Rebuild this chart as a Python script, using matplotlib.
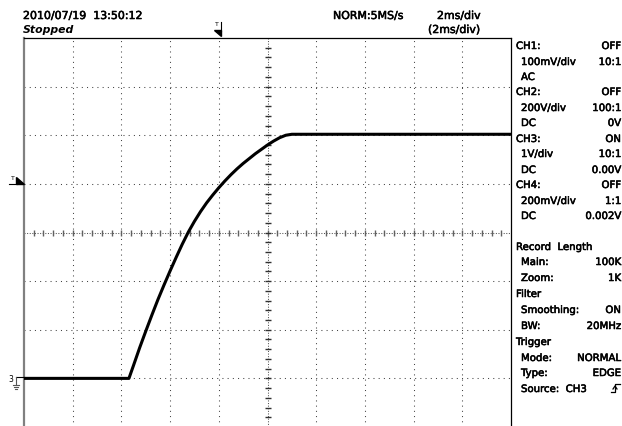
import matplotlib
matplotlib.use("Agg")
import matplotlib.pyplot as plt
import matplotlib.patheffects as pe
from matplotlib.patches import Polygon

# CH3 trace: time in ms from the left edge, volts above ground
trace_t = [0.0, 4.31, 4.5, 4.75, 5.0, 5.25, 5.5, 5.75, 6.0, 6.25, 6.5, 6.75, 7.0,
           7.25, 7.5, 7.75, 8.0, 8.25, 8.5, 8.75, 9.0, 9.25, 9.5, 9.75, 10.0,
           10.25, 10.5, 10.75, 11.0, 20.0]
trace_v = [0.0, 0.0, 0.27, 0.63, 0.97, 1.30, 1.62, 1.92, 2.21, 2.49, 2.76, 3.01, 3.23,
           3.43, 3.61, 3.77, 3.92, 4.06, 4.19, 4.31, 4.42, 4.52, 4.62, 4.71, 4.80,
           4.88, 4.95, 5.00, 5.02, 5.02]

# screen settings
ms_per_div = 2
v_per_div = 1
n_xdiv = 10
n_ydiv = 8
ground_div = -3  # ground marker sits 3 divisions below centre

# side panel: label, value, indented?
panel_rows = [
    ("CH1:", "OFF", False), ("100mV/div", "10:1", True), ("AC", "", True),
    ("CH2:", "OFF", False), ("200V/div", "100:1", True), ("DC", "0V", True),
    ("CH3:", "ON", False), ("1V/div", "10:1", True), ("DC", "0.00V", True),
    ("CH4:", "OFF", False), ("200mV/div", "1:1", True), ("DC", "0.002V", True),
    ("Record  Length", "", False), ("Main:", "100K", True), ("Zoom:", "1K", True),
    ("Filter", "", False), ("Smoothing:", "ON", True), ("BW:", "20MHz", True),
    ("Trigger", "", False), ("Mode:", "NORMAL", True), ("Type:", "EDGE", True),
    ("Source:  CH3", "", True),
]
panel_y = [46, 62, 77, 92, 108, 123, 139, 154, 170, 185, 201, 216,
           247, 262, 278, 294, 310, 326, 342, 358, 373, 389]

W, H = 622, 426
fig = plt.figure(figsize=(W / 100, H / 100), dpi=100)
fig.patch.set_facecolor("white")
bold_fx = [pe.withStroke(linewidth=0.4, foreground="black")]

# screen area in pixels
left, right, top, bottom = 24, 511, 38, 427
ax = fig.add_axes([left / W, 1 - bottom / H, (right - left) / W, (bottom - top) / H])
t_max = n_xdiv * ms_per_div
v_min = (-n_ydiv / 2 - ground_div) * v_per_div
v_max = (n_ydiv / 2 - ground_div) * v_per_div
v_mid = (v_min + v_max) / 2
t_mid = t_max / 2
ax.set_xlim(0, t_max)
ax.set_ylim(v_min, v_max)
ax.set_xticks([])
ax.set_yticks([])
for s in ["top", "right"]:
    ax.spines[s].set_color("black")
    ax.spines[s].set_linewidth(0.9)
ax.spines["left"].set_color("#808080")
ax.spines["left"].set_linewidth(1.6)
ax.spines["bottom"].set_visible(False)

dots = (0, (1, 4))
for i in range(1, n_xdiv):
    t = i * ms_per_div
    if t != t_mid:
        ax.axvline(t, color="#444444", lw=0.75, ls=dots, zorder=1)
for i in range(1, n_ydiv):
    v = v_min + i * v_per_div
    if v != v_mid:
        ax.axhline(v, color="#444444", lw=0.75, ls=dots, zorder=1)

# centre cross with 1/5 division ticks
ax.axhline(v_mid, color="#555555", lw=0.75, ls=(0, (1, 1.5)), zorder=1)
ax.axvline(t_mid, color="#555555", lw=0.75, ls=(0, (1, 1.5)), zorder=1)
xt = [k * ms_per_div / 5 for k in range(1, n_xdiv * 5)]
yt = [v_min + k * v_per_div / 5 for k in range(1, n_ydiv * 5)]
ax.plot(xt, [v_mid] * len(xt), ls="none", marker="|", ms=5, mew=1.0, color="#606060", zorder=2)
ax.plot([t_mid] * len(yt), yt, ls="none", marker="_", ms=5, mew=1.0, color="#303030", zorder=2)

ax.plot(trace_t, trace_v, color="black", lw=2.2, solid_joinstyle="round", zorder=5)

# overlay in pixel coordinates for the annotations
ov = fig.add_axes([0, 0, 1, 1], zorder=10)
ov.set_xlim(0, W)
ov.set_ylim(H, 0)
ov.axis("off")
ov.patch.set_alpha(0)

ov.text(23, 16, "2010/07/19  13:50:12", fontsize=7.9, va="center", ha="left", path_effects=bold_fx)
ov.text(23, 30, "Stopped", fontsize=7.8, style="italic", weight="bold", va="center", ha="left")
ov.text(333, 16, "NORM:5MS/s", fontsize=7.9, va="center", ha="left", path_effects=bold_fx)
ov.text(437, 16, "2ms/div", fontsize=7.9, va="center", ha="left", path_effects=bold_fx)
ov.text(428, 30, "(2ms/div)", fontsize=7.9, va="center", ha="left", path_effects=bold_fx)

# trigger position marker (top)
ov.text(217, 25, "T", fontsize=4.5, ha="center", va="center")
ov.add_patch(Polygon([(214, 30), (221, 30), (221, 36)], closed=True, color="black"))
ov.plot([221, 221], [22, 31], color="black", lw=0.8)

# trigger level marker (left)
ov.text(13, 179, "T", fontsize=4.5, ha="center", va="center")
ov.plot([9, 17], [183.5, 183.5], color="black", lw=0.8)
ov.add_patch(Polygon([(16, 177), (16, 184), (24, 184)], closed=True, color="black"))

# CH3 ground marker
ov.text(11, 380, "3", fontsize=5.5, ha="center", va="center")
ov.plot([16, 23], [377, 377], color="black", lw=0.8)
ov.plot([16, 16], [377, 385], color="#555555", lw=0.8)
ov.plot([13, 19], [385, 385], color="#555555", lw=0.8)
ov.plot([14, 18], [387, 387], color="#555555", lw=0.8)
ov.plot([15, 17], [389, 389], color="#555555", lw=0.8)

# side panel
for (label, value, indent), y in zip(panel_rows, panel_y):
    ov.text(521 if indent else 516, y, label, fontsize=7.3, ha="left", va="center",
            path_effects=bold_fx)
    if value:
        ov.text(621, y, value, fontsize=7.3, ha="right", va="center", path_effects=bold_fx)

# rising edge symbol after Source
ov.plot([611, 615, 615, 620], [392, 392, 384, 384], color="black", lw=0.9)
ov.plot([613, 615, 617], [389, 386, 389], color="black", lw=0.9)

fig.savefig("out.png", dpi=100)
